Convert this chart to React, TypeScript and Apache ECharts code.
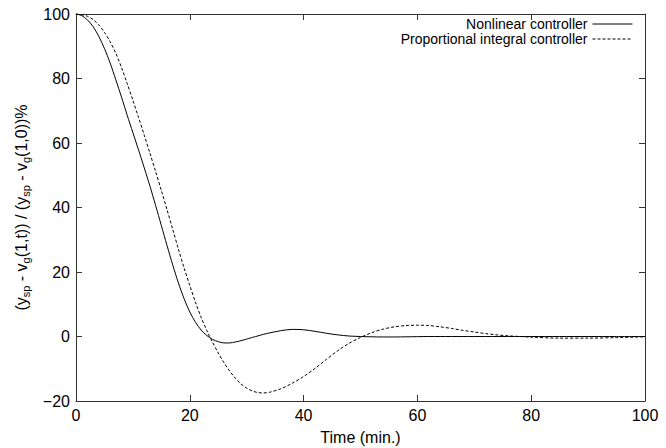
import React, { useEffect, useRef } from "react";
import * as echarts from "echarts";

const times = [0, 1, 2, 3, 4, 5, 6, 7, 8, 9, 10, 11, 12, 13, 14, 15, 16, 17, 18, 19, 20, 21, 22, 23, 24, 25, 26, 27, 28, 29, 30, 31, 32, 33, 34, 36, 38, 40, 42, 44, 46, 48, 50, 52, 54, 56, 58, 60, 62, 64, 66, 68, 70, 72, 74, 76, 78, 80, 85, 90, 95, 100];

const nonlinear = [100, 99.5, 98.2, 96.1, 93.1, 89.3, 84.8, 79.6, 74.2, 68.6, 63.2, 57.8, 52.3, 46.6, 40.6, 34.4, 28.2, 22.2, 16.6, 11.7, 7.6, 4.4, 2.0, 0.3, -0.9, -1.6, -2.0, -2.0, -1.7, -1.3, -0.8, -0.3, 0.2, 0.7, 1.1, 1.8, 2.2, 2.1, 1.6, 1.0, 0.5, 0.15, 0, -0.1, -0.15, -0.15, -0.1, -0.05, 0, 0, 0, 0, 0, 0, 0, 0, 0, 0, 0, 0, 0, 0];

const proportionalIntegral = [100, 99.8, 99.3, 98.3, 96.6, 94.3, 91.4, 87.8, 83.4, 78.4, 73.2, 67.9, 62.4, 56.8, 51.1, 45.3, 39.3, 33.2, 27.1, 21.2, 15.8, 10.6, 5.9, 1.8, -1.8, -5.1, -8.1, -10.7, -12.9, -14.7, -16, -16.9, -17.4, -17.5, -17.3, -16.2, -14.5, -12.4, -9.9, -7.1, -4.4, -2.1, -0.3, 1.2, 2.3, 3.0, 3.4, 3.5, 3.4, 3.0, 2.5, 1.9, 1.4, 0.9, 0.5, 0.2, 0, -0.2, -0.5, -0.5, -0.35, -0.1];

const seriesNames = ["Nonlinear controller", "Proportional integral controller"];
const xTitle = "Time (min.)";

const FONT = "'Liberation Sans', Arial, Helvetica, sans-serif";

export default function App() {
  const ref = useRef<HTMLDivElement>(null);
  useEffect(() => {
    if (!ref.current) return;
    const chart = echarts.init(ref.current, null, { renderer: "svg" });
    const axisLine = { show: true, onZero: false, lineStyle: { color: "#333", width: 1 } };
    const tick = { show: true, inside: true, length: 6, lineStyle: { color: "#333" } };
    chart.setOption({
      animation: false,
      backgroundColor: "#fff",
      textStyle: { fontFamily: FONT },
      grid: { left: 76, right: 21, top: 14, bottom: 47, containLabel: false, outerBoundsMode: "none" },
      legend: {
        orient: "vertical",
        right: 33,
        top: 17,
        align: "right",
        itemWidth: 40,
        itemHeight: 14,
        itemGap: 1,
        padding: 0,
        itemStyle: { opacity: 0 },
        lineStyle: { width: 1 },
        textStyle: { fontSize: 14, color: "#000", fontFamily: FONT },
        data: seriesNames,
      },
      xAxis: [
        {
          type: "value",
          min: 0,
          max: 100,
          interval: 20,
          name: xTitle,
          nameLocation: "middle",
          nameGap: 28,
          nameTextStyle: { fontSize: 16, color: "#000", fontFamily: FONT },
          axisLine,
          axisTick: tick,
          axisLabel: { fontSize: 16, color: "#000", margin: 6, fontFamily: FONT },
          splitLine: { show: false },
        },
        {
          type: "value",
          position: "top",
          min: 0,
          max: 100,
          interval: 20,
          axisLine,
          axisTick: tick,
          axisLabel: { show: false },
          splitLine: { show: false },
        },
      ],
      yAxis: [
        {
          type: "value",
          min: -20,
          max: 100,
          interval: 20,
          name:
            "{m|(y}{s|sp}{m| - v}{s|g}{m|(1,t)) / (y}{s|sp}{m| - v}{s|g}{m|(1,0))%}",
          nameLocation: "middle",
          nameGap: 43,
          nameRotate: 90,
          nameTextStyle: {
            fontFamily: FONT,
            color: "#000",
            rich: {
              m: { fontSize: 16, lineHeight: 20, color: "#000", fontFamily: FONT },
              s: { fontSize: 11, lineHeight: 10, verticalAlign: "bottom", color: "#000", fontFamily: FONT },
            },
          },
          axisLine,
          axisTick: tick,
          axisLabel: {
            fontSize: 16,
            color: "#000",
            margin: 6,
            fontFamily: FONT,
            formatter: (v: number) => (v < 0 ? "\u2212" + Math.abs(v) : String(v)),
          },
          splitLine: { show: false },
        },
        {
          type: "value",
          position: "right",
          min: -20,
          max: 100,
          interval: 20,
          axisLine,
          axisTick: tick,
          axisLabel: { show: false },
          splitLine: { show: false },
        },
      ],
      series: [
        {
          name: seriesNames[0],
          type: "line",
          smooth: 0.3,
          symbol: "none",
          data: times.map((t, i) => [t, nonlinear[i]]),
          lineStyle: { color: "#000", width: 1, type: "solid" },
          itemStyle: { color: "#000" },
        },
        {
          name: seriesNames[1],
          type: "line",
          smooth: 0.3,
          symbol: "none",
          data: times.map((t, i) => [t, proportionalIntegral[i]]),
          lineStyle: { color: "#000", width: 1, type: [3, 2] },
          itemStyle: { color: "#000" },
        },
      ],
    });
    return () => chart.dispose();
  }, []);
  return <div ref={ref} style={{ width: 666, height: 448, position: "absolute", left: 0, top: 0 }} />;
}
